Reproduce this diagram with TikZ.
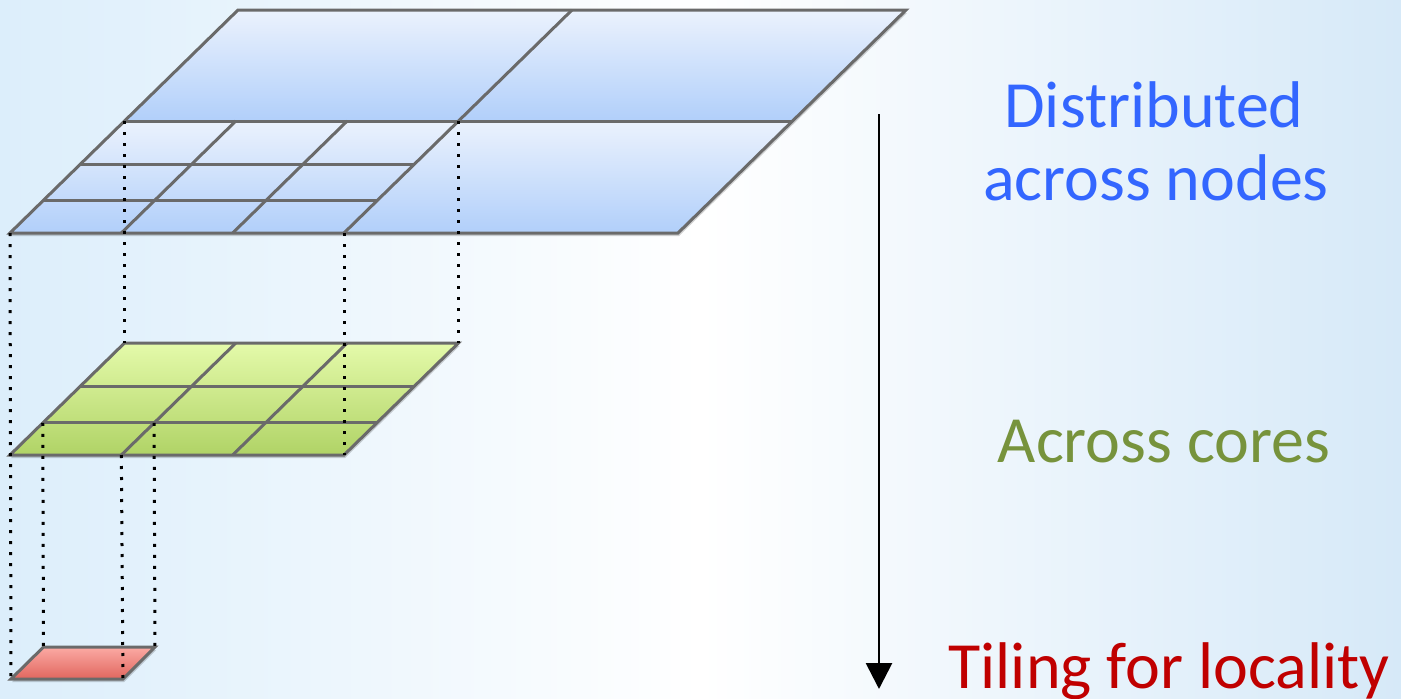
\documentclass[tikz,border=0pt]{standalone}
\usepackage{fontspec}
\setmainfont{Carlito}
\usetikzlibrary{calc,arrows.meta,shadows}
\definecolor{bgL}{HTML}{DCEEFB}
\definecolor{bgR}{HTML}{D6E9F8}
\definecolor{edgeG}{HTML}{6A6A6A}
\definecolor{bluT}{HTML}{EBF2FD}
\definecolor{bluB}{HTML}{B1CFFA}
\definecolor{grnT}{HTML}{E4FAAA}
\definecolor{grnB}{HTML}{B0D366}
\definecolor{redT}{HTML}{FBAAA4}
\definecolor{redB}{HTML}{E1665E}
\definecolor{txtBlue}{HTML}{3366FF}
\definecolor{txtGreen}{HTML}{77933C}
\definecolor{txtRed}{HTML}{C00000}
\tikzset{
  layeredge/.style={draw=edgeG, line width=3pt, line join=miter},
  gridline/.style={draw=edgeG, line width=3pt},
  bluefill/.style={top color=bluT, bottom color=bluB},
  greenfill/.style={top color=grnT, bottom color=grnB},
  redfill/.style={top color=redT, bottom color=redB},
  shad/.style={drop shadow={shadow xshift=1pt, shadow yshift=-3pt, opacity=0.18, fill=black}},
  proj/.style={draw=black, line width=3pt, dash pattern=on 3pt off 8pt},
  lbl/.style={font=\fontsize{66}{70}\selectfont, anchor=base, inner sep=0pt},
}
\begin{document}
\begin{tikzpicture}[x=1pt,y=-1pt]
\useasboundingbox (0,0) rectangle (1401,699);
\shade[left color=bgL, right color=bgR, middle color=white] (0,0) rectangle (1401,699);
% ---------- top layer (distributed across nodes) ----------
\coordinate (A1) at (238,10);
\coordinate (A2) at (906,10);
\coordinate (A3) at (792.5,121);
\coordinate (A4) at (124.5,121);
\coordinate (A5) at (678,233);
\coordinate (A6) at (10,233);
\coordinate (D1) at (572,10);
\coordinate (D2) at (458.5,121);
\coordinate (D3) at (344,233);
\path[bluefill, shad] (A1) -- (A2) -- (A5) -- (A6) -- cycle;
\path[bluefill] (A1) -- (A2) -- (A3) -- (A4) -- cycle;
\path[bluefill] (A4) -- (A3) -- (A5) -- (A6) -- cycle;
% quadrant grid
\foreach \f in {0.384,0.714}{
  \draw[gridline] ($(A4)!\f!(A6)$) -- ($(D2)!\f!(D3)$);
}
\foreach \k in {1,2}{
  \draw[gridline] ($(A4)!\k/3!(D2)$) -- ($(A6)!\k/3!(D3)$);
}
\draw[gridline] (A4) -- (A3);
\draw[gridline] (D1) -- (D3);
\draw[layeredge] (A1) -- (A2) -- (A5) -- (A6) -- cycle;
% ---------- middle layer (across cores) ----------
\coordinate (G1) at (124.5,343);
\coordinate (G2) at (458.5,343);
\coordinate (G3) at (344,455);
\coordinate (G4) at (10,455);
\path[greenfill, shad] (G1) -- (G2) -- (G3) -- (G4) -- cycle;
\foreach \f in {0.384,0.714}{
  \draw[gridline] ($(G1)!\f!(G4)$) -- ($(G2)!\f!(G3)$);
}
\foreach \k in {1,2}{
  \draw[gridline] ($(G1)!\k/3!(G2)$) -- ($(G4)!\k/3!(G3)$);
}
\draw[layeredge] (G1) -- (G2) -- (G3) -- (G4) -- cycle;
\coordinate (C1) at ($(G1)!0.714!(G4)$);
\coordinate (C2) at ($(C1)+(111.33,0)$);
\coordinate (C3) at ($(G4)+(111.33,0)$);
% ---------- bottom layer (tiling) ----------
\coordinate (R1) at (43.5,647);
\coordinate (R2) at (155,647);
\coordinate (R3) at (123,679);
\coordinate (R4) at (11,679);
\path[redfill, shad] (R1) -- (R2) -- (R3) -- (R4) -- cycle;
\draw[layeredge] (R1) -- (R2) -- (R3) -- (R4) -- cycle;
% ---------- projection lines ----------
\draw[proj] (A4) -- (G1);
\draw[proj] (D2) -- (G2);
\draw[proj] (D3) -- (G3);
\draw[proj] (A6) -- (R4);
\draw[proj] (C1) -- (R1);
\draw[proj] (C2) -- (R2);
\draw[proj] (C3) -- (R3);
% ---------- arrow ----------
\coordinate (S) at (879,114);
\coordinate (E) at (879,689);
\draw[line width=2.8pt, -{Triangle[width=26pt,length=26pt]}] (S) -- (E);
% ---------- labels ----------
\node[lbl, text=txtBlue] (t1) at (1154,127) {Distributed};
\node[lbl, text=txtBlue] (t2) at (1156,200) {across nodes};
\node[lbl, text=txtGreen] (t3) at (1164,462) {Across cores};
\node[lbl, text=txtRed] (t4) at (1169,688) {Tiling for locality};
\end{tikzpicture}
\end{document}
